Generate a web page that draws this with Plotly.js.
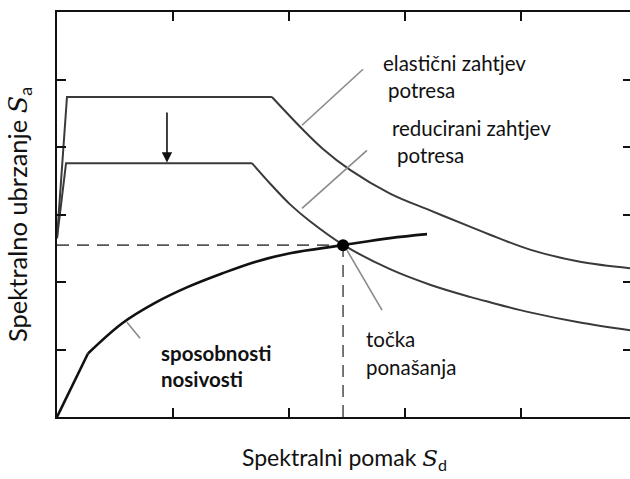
<!DOCTYPE html>
<html>
<head>
<meta charset="utf-8">
<script src="https://cdn.plot.ly/plotly-3.0.1.min.js"></script>
<style>
html,body{margin:0;padding:0;overflow:hidden;background:#fff;}
#chart{width:632px;height:479px;}
</style>
</head>
<body>
<div id="chart"></div>
<script>
// Elastic demand spectrum: rise + plateau, then descending branch
const elasticRiseSd = [0, 0.086, 1.853];
const elasticRiseSa = [2.65, 4.74, 4.74];
const elasticDescSd = [1.853, 2.112, 2.293, 2.526, 2.871, 3.216, 3.56, 3.733, 4.078, 4.509, 4.94];
const elasticDescSa = [4.74, 4.27, 3.97, 3.66, 3.31, 3.06, 2.82, 2.70, 2.48, 2.30, 2.205];
// Reduced demand spectrum
const reducedRiseSd = [0, 0.078, 1.681];
const reducedRiseSa = [2.65, 3.76, 3.76];
const reducedDescSd = [1.681, 1.836, 2.009, 2.181, 2.468, 2.871, 3.216, 3.56, 3.733, 4.078, 4.509, 4.94];
const reducedDescSa = [3.76, 3.46, 3.15, 2.90, 2.55, 2.19, 1.96, 1.78, 1.70, 1.55, 1.40, 1.285];
// Capacity curve: elastic branch, then post-yield branch
const capElasticSd = [0, 0.267];
const capElasticSa = [0, 0.94];
const capPlasticSd = [0.267, 0.560, 0.845, 1.129, 1.422, 1.707, 2.009, 2.466, 2.871, 3.19];
const capPlasticSa = [0.94, 1.385, 1.69, 1.927, 2.126, 2.298, 2.427, 2.546, 2.65, 2.709];
// Performance point
const perfSd = [2.466];
const perfSa = [2.546];
// Tick positions (unlabelled)
const xTicks = [1, 2, 3, 4];
const yTicks = [1, 2, 3, 4, 5];

const labelFont = {family: 'Lato, "Open Sans", sans-serif', size: 20.5, color: '#111'};
const mathS = '<span style="font-family:\'DejaVu Serif\',\'Liberation Serif\',serif;font-style:italic">S</span>';

const demandLine = {color: '#3a3a3a', width: 2};
const splineDemand = {color: '#3a3a3a', width: 2, shape: 'spline', smoothing: 1};
const traces = [
  {x: [0, perfSd[0]], y: [perfSa[0], perfSa[0]], mode: 'lines', line: {color: '#555', width: 1.6, dash: '12px,8px'}, hoverinfo: 'skip', showlegend: false},
  {x: [perfSd[0], perfSd[0]], y: [0, perfSa[0]], mode: 'lines', line: {color: '#555', width: 1.6, dash: '12px,8px'}, hoverinfo: 'skip', showlegend: false},
  {x: elasticRiseSd, y: elasticRiseSa, mode: 'lines', name: 'elastični zahtjev potresa', line: demandLine, showlegend: false},
  {x: elasticDescSd, y: elasticDescSa, mode: 'lines', name: 'elastični zahtjev potresa', line: splineDemand, showlegend: false},
  {x: reducedRiseSd, y: reducedRiseSa, mode: 'lines', name: 'reducirani zahtjev potresa', line: demandLine, showlegend: false},
  {x: reducedDescSd, y: reducedDescSa, mode: 'lines', name: 'reducirani zahtjev potresa', line: splineDemand, showlegend: false},
  {x: capElasticSd, y: capElasticSa, mode: 'lines', name: 'sposobnosti nosivosti', line: {color: '#111', width: 2.6}, showlegend: false},
  {x: capPlasticSd, y: capPlasticSa, mode: 'lines', name: 'sposobnosti nosivosti', line: {color: '#111', width: 2.6, shape: 'spline', smoothing: 1}, showlegend: false},
  {x: perfSd, y: perfSa, mode: 'markers', name: 'točka ponašanja', marker: {color: '#000', size: 12}, showlegend: false}
];

const leader = (x0, y0, x1, y1) => ({type: 'line', xref: 'x', yref: 'y', x0, y0, x1, y1, line: {color: '#8a8a8a', width: 1.6}});

const layout = {
  width: 632, height: 479,
  margin: {l: 57, r: 0, t: 12, b: 62},
  paper_bgcolor: '#fff', plot_bgcolor: '#fff',
  xaxis: {
    range: [0, 4.957], showgrid: false, zeroline: false,
    showline: true, linecolor: '#111', linewidth: 2, mirror: 'ticks',
    ticks: 'inside', ticklen: 9, tickwidth: 2, tickcolor: '#111',
    tickvals: xTicks, showticklabels: false,
    title: {text: 'Spektralni pomak ' + mathS + '<sub>d</sub>', font: {family: 'Lato, "Open Sans", sans-serif', size: 23, color: '#111'}, standoff: 32}
  },
  yaxis: {
    range: [0, 6], showgrid: false, zeroline: false,
    showline: true, linecolor: '#111', linewidth: 2, mirror: 'ticks',
    ticks: 'inside', ticklen: 9, tickwidth: 2, tickcolor: '#111',
    tickvals: yTicks, showticklabels: false,
    title: {text: 'Spektralno ubrzanje ' + mathS + '<sub>a</sub>', font: {family: 'Lato, "Open Sans", sans-serif', size: 25.5, color: '#111'}, standoff: 20}
  },
  shapes: [
    leader(2.112, 4.322, 2.638, 5.152),
    leader(2.112, 3.091, 2.672, 3.951),
    leader(2.5, 2.471, 2.802, 1.582),
    leader(0.603, 1.404, 0.716, 1.167)
  ],
  annotations: [
    {x: 0.948, y: 3.77, ax: 0.948, ay: 4.66, xref: 'x', yref: 'y', axref: 'x', ayref: 'y', text: ' ', showarrow: true, arrowhead: 2, arrowsize: 1.3, arrowwidth: 1.6, arrowcolor: '#111'},
    {x: 381, y: 63, text: 'elastični zahtjev', showarrow: false, xanchor: 'left', yanchor: 'middle', font: labelFont},
    {x: 386, y: 90, text: 'potresa', showarrow: false, xanchor: 'left', yanchor: 'middle', font: labelFont},
    {x: 390, y: 128, text: 'reducirani zahtjev', showarrow: false, xanchor: 'left', yanchor: 'middle', font: labelFont},
    {x: 395, y: 155, text: 'potresa', showarrow: false, xanchor: 'left', yanchor: 'middle', font: labelFont},
    {x: 364, y: 339, text: 'točka', showarrow: false, xanchor: 'left', yanchor: 'middle', font: labelFont},
    {x: 364, y: 367, text: 'ponašanja', showarrow: false, xanchor: 'left', yanchor: 'middle', font: labelFont},
    {x: 159, y: 353, text: '<b>sposobnosti</b>', showarrow: false, xanchor: 'left', yanchor: 'middle', font: labelFont},
    {x: 159, y: 379, text: '<b>nosivosti</b>', showarrow: false, xanchor: 'left', yanchor: 'middle', font: labelFont}
  ]
};

// Label anchor positions are given in page pixels; convert through the axis scale
const pxToX = px => (px - 57) / (632 - 57) * 4.957;
const pyToY = py => (417 - py) / (417 - 12) * 6;
layout.annotations.forEach((a, i) => {
  if (i === 0) return;
  a.x = pxToX(a.x); a.y = pyToY(a.y); a.xref = 'x'; a.yref = 'y';
});

Plotly.newPlot('chart', traces, layout, {displayModeBar: false, staticPlot: true});
</script>
</body>
</html>
